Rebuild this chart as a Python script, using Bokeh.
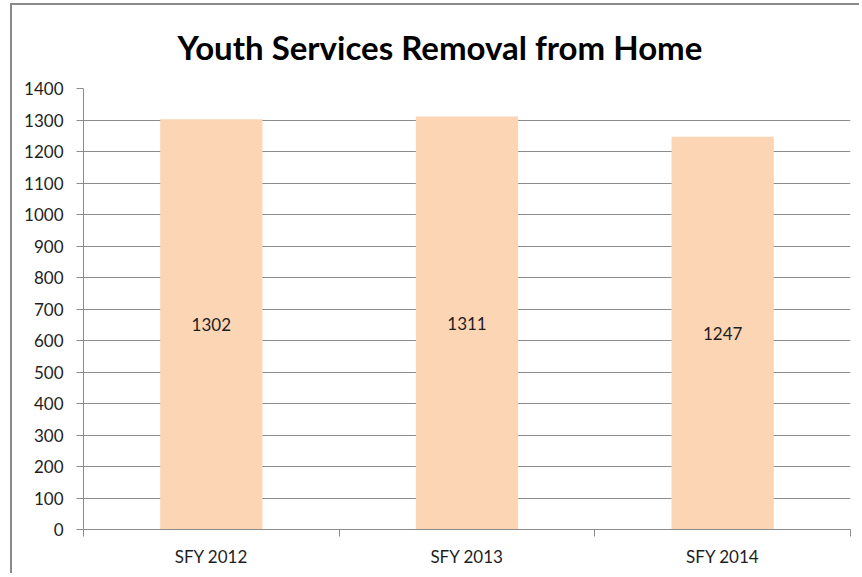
from bokeh.plotting import figure
from bokeh.models import Range1d, LinearAxis, FixedTicker, ColumnDataSource
from bokeh.core.properties import value
from bokeh.embed import file_html
from bokeh.resources import INLINE

title_text = "Youth Services Removal from Home"
categories = ["SFY 2012", "SFY 2013", "SFY 2014"]
values = [1302, 1311, 1247]
y_ticks = [0, 100, 200, 300, 400, 500, 600, 700, 800, 900, 1000, 1100, 1200, 1300, 1400]

FONT = "Lato"
BAR = "#FCD5B5"
GRID = "#8C8C8C"
TXT = "#1E1E1E"

n = len(categories)
centers = [i + 0.5 for i in range(n)]
bounds = [float(i) for i in range(n + 1)]

p = figure(x_range=Range1d(0, n), y_range=Range1d(0, 1400),
           width=849, height=570, output_backend="svg", toolbar_location=None,
           x_axis_location=None, y_axis_location=None,
           min_border_left=71, min_border_right=11, min_border_top=83, min_border_bottom=46)
p.styles = {"border-left": "2px solid #8A8A8A", "border-top": "2px solid #8A8A8A",
            "margin-left": "10px", "margin-top": "3px"}
p.outline_line_color = None
p.background_fill_color = "white"
p.border_fill_color = "white"

p.title.text = title_text
p.title.align = "left"
p.title.offset = 94
p.title.vertical_align = "top"
p.title.standoff = 40
p.title.text_font = FONT
p.title.text_font_size = "33px"
p.title.text_font_style = "bold"
p.title.text_color = "#000000"

# y axis
yax = LinearAxis(ticker=FixedTicker(ticks=y_ticks, minor_ticks=[]))
yax.axis_line_color = GRID
yax.major_tick_line_color = GRID
yax.major_tick_out = 7
yax.major_tick_in = 0
yax.minor_tick_line_color = None
yax.major_label_text_font = FONT
yax.major_label_text_font_size = "17px"
yax.major_label_text_color = TXT
yax.major_label_standoff = 13
p.add_layout(yax, "left")

# x axis: labels at category centres, tick marks at category boundaries
xax = LinearAxis(ticker=FixedTicker(ticks=centers, minor_ticks=bounds),
                 major_label_overrides={c: lab for c, lab in zip(centers, categories)})
xax.axis_line_color = GRID
xax.major_tick_line_color = None
xax.major_tick_out = 0
xax.major_tick_in = 0
xax.minor_tick_line_color = GRID
xax.minor_tick_out = 7
xax.minor_tick_in = 0
xax.major_label_text_font = FONT
xax.major_label_text_font_size = "17px"
xax.major_label_text_color = TXT
xax.major_label_standoff = 9
p.add_layout(xax, "below")

p.xgrid.grid_line_color = None
p.ygrid.ticker = FixedTicker(ticks=y_ticks)
p.ygrid.grid_line_color = GRID
p.ygrid.grid_line_width = 1

src = ColumnDataSource(dict(x=centers, val=values,
                            mid=[v / 2 for v in values],
                            lab=[str(v) for v in values]))
p.vbar(x="x", top="val", bottom=0, width=0.4, source=src,
       fill_color=BAR, line_color=None)
p.text(x="x", y="mid", text="lab", source=src, text_align="center",
       text_baseline="middle", text_font=value(FONT), text_font_size="17px",
       text_color=TXT)

open("out.html", "w").write(file_html(p, INLINE))
